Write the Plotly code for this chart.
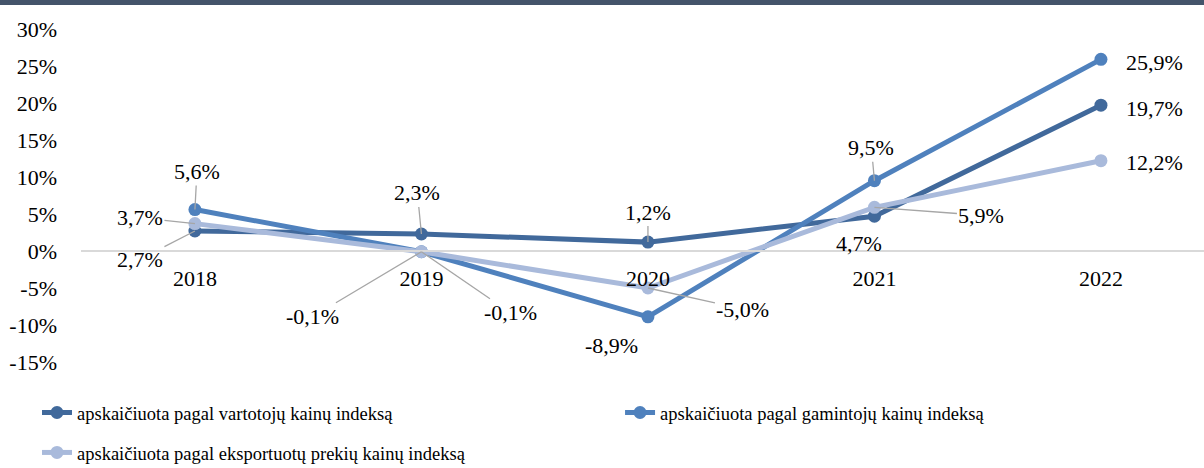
import plotly.graph_objects as go

years = ["2018", "2019", "2020", "2021", "2022"]
series_names = [
    "apskaičiuota pagal vartotojų kainų indeksą",
    "apskaičiuota pagal gamintojų kainų indeksą",
    "apskaičiuota pagal eksportuotų prekių kainų indeksą",
]
vartotoju = [2.7, 2.3, 1.2, 4.7, 19.7]
gamintoju = [5.6, -0.1, -8.9, 9.5, 25.9]
eksportuotu = [3.7, -0.1, -5.0, 5.9, 12.2]
y_ticks = [-15, -10, -5, 0, 5, 10, 15, 20, 25, 30]

colors = ["#41699b", "#4f81bd", "#a9badb"]
all_values = [vartotoju, gamintoju, eksportuotu]
legend_ids = ["legend", "legend2", "legend3"]

# label offsets (px) relative to each point, and whether a leader line is drawn
label_offsets = [
    [(-55, 28, True), (-4, -41, True), (0, -30, True), (-15, 27, False), (54, 3, False)],
    [(2, -38, True), (-109, 65, True), (-36, 29, False), (-3, -33, True), (54, 3, False)],
    [(-55, -6, True), (89, 61, True), (95, 21, True), (107, 8, True), (54, 2, False)],
]

FONT = "Liberation Serif, Times New Roman, serif"

fig = go.Figure()
for name, vals, col, lg in zip(series_names, all_values, colors, legend_ids):
    fig.add_trace(go.Scatter(
        x=years, y=vals, name=name, mode="lines+markers",
        line=dict(color=col, width=5),
        marker=dict(color=col, size=13),
        legend=lg, showlegend=True, cliponaxis=False,
    ))

annotations = []
for vals, offs in zip(all_values, label_offsets):
    for i, (v, (ax, ay, leader)) in enumerate(zip(vals, offs)):
        annotations.append(dict(
            x=i, y=v, xref="x", yref="y",
            text=f"{v:.1f}%".replace(".", ","),
            showarrow=True, ax=ax, ay=ay, arrowhead=0, standoff=0,
            arrowwidth=1.3,
            arrowcolor="#a6a6a6" if leader else "rgba(0,0,0,0)",
            font=dict(family=FONT, size=22, color="#000000"),
        ))

leg_font = dict(family=FONT, size=18.5, color="#000000")

fig.update_layout(
    width=1204, height=468,
    showlegend=True,
    margin=dict(l=81, r=0, t=29, b=106, autoexpand=False),
    paper_bgcolor="white", plot_bgcolor="white",
    font=dict(family=FONT, size=22, color="#000000"),
    annotations=annotations,
    xaxis=dict(
        type="category", range=[-0.503, 4.455],
        anchor="free", position=1/3,
        showline=True, linecolor="#d9d9d9", linewidth=1.5,
        showgrid=False, zeroline=False, ticks="",
        ticklabelstandoff=8,
        tickfont=dict(family=FONT, size=22, color="#000000"),
    ),
    yaxis=dict(
        range=[-15, 30], tickvals=y_ticks,
        ticktext=[f"{t}%" for t in y_ticks],
        showgrid=False, zeroline=False, showline=False, ticks="",
        ticklabelstandoff=23,
        tickfont=dict(family=FONT, size=22, color="#000000"),
    ),
    legend=dict(orientation="h", x=-0.0392, y=-0.153, xanchor="left", yanchor="middle",
                font=leg_font, bgcolor="rgba(0,0,0,0)"),
    legend2=dict(orientation="h", x=0.48, y=-0.153, xanchor="left", yanchor="middle",
                 font=leg_font, bgcolor="rgba(0,0,0,0)"),
    legend3=dict(orientation="h", x=-0.0392, y=-0.273, xanchor="left", yanchor="middle",
                 font=leg_font, bgcolor="rgba(0,0,0,0)"),
    shapes=[dict(type="rect", xref="paper", yref="paper",
                 x0=-81/1123, x1=1.0, y0=1 + 24/333, y1=1 + 30/333,
                 fillcolor="#44546a", line=dict(width=0), layer="above")],
)

fig.write_html("out.html", config={"displayModeBar": False},
               post_script="document.body.style.margin='0';")
